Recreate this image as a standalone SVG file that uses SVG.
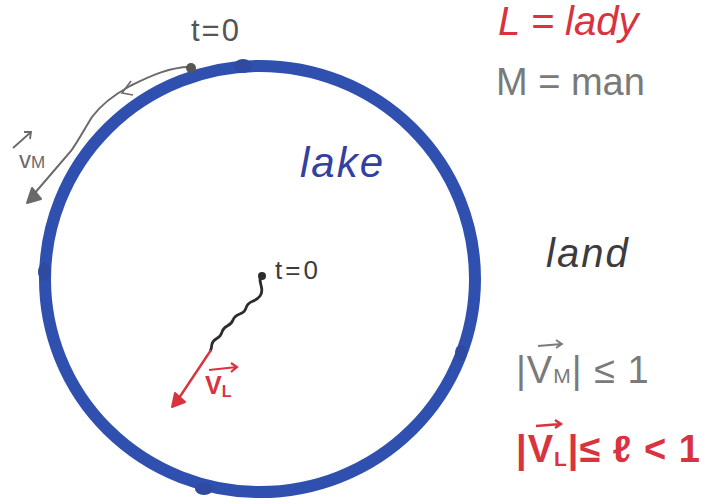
<svg xmlns="http://www.w3.org/2000/svg" width="709" height="504" viewBox="0 0 709 504">
<defs>
<style>
.t{font-family:"Liberation Sans","DejaVu Sans",sans-serif}
.red{fill:#d8333f}
.grey{fill:#7a7a7a}
.dark{fill:#3c3c3c}
.blue{fill:#33409e}
.lake{fill:none;stroke:#2f50ae;stroke-width:12}
.blob{fill:#2f4aa0}
</style>
</defs>
<rect width="709" height="504" fill="#ffffff"/>
<g id="lake">
<ellipse class="lake" cx="260" cy="279" rx="215" ry="213"/>
<ellipse class="blob" cx="243" cy="66" rx="9" ry="7"/>
<ellipse class="blob" cx="44" cy="272" rx="6" ry="9"/>
<ellipse class="blob" cx="461" cy="353" rx="6" ry="8"/>
<ellipse class="blob" cx="204" cy="489" rx="9" ry="6"/>
</g>
<g id="man">
<path d="M192,67 C172,66 150,76 130,86 C112,96 100,106 92,117 C85,128 79,140 71,151 L34,194" fill="none" stroke="#6a6a6a" stroke-width="2"/>
<polyline points="131,81 122,93 133,95" fill="none" stroke="#6a6a6a" stroke-width="1.6"/>
<polygon points="27,203 32,188 41,199" fill="#6a6a6a" stroke="#6a6a6a" stroke-width="2" stroke-linejoin="round"/>
<circle cx="191" cy="68" r="5" fill="#555"/>
<text class="t" x="191" y="41" font-size="31" fill="#555" letter-spacing="2">t=0</text>
<path d="M13,148 L31,132 M24,132 L31,132 L30,139" fill="none" stroke="#6a6a6a" stroke-width="1.8"/>
<text class="t" x="19" y="168" font-size="24" fill="#6a6a6a">v<tspan font-size="17">M</tspan></text>
</g>
<g id="lady">
<path d="M262,275 C256,282 266,288 260,296 C255,303 248,300 246,308 C244,316 236,312 233,320 C230,328 224,324 222,332 C220,340 214,337 212,344 C211,348 212,349 210,351" fill="none" stroke="#2c2c2c" stroke-width="2.8"/>
<path d="M211,350 L177,401" fill="none" stroke="#d8333f" stroke-width="2.4"/>
<polygon points="172,407 175,393 185,402" fill="#d8333f" stroke="#d8333f" stroke-width="2" stroke-linejoin="round"/>
<circle cx="262" cy="276" r="4" fill="#2c2c2c"/>
<text class="t dark" x="275" y="279" font-size="26" letter-spacing="3">t=0</text>
<path d="M209,370 L237,367 M231,363 L237,367 L231,372" fill="none" stroke="#d8333f" stroke-width="2.2"/>
<text class="t red" x="205" y="394" font-size="25" font-weight="bold">V<tspan font-size="16" dy="3">L</tspan></text>
</g>
<g id="legend">
<text class="t red" x="498" y="35" font-size="40" font-style="italic">L = lady</text>
<text class="t grey" x="496" y="95" font-size="38">M = man</text>
<text class="t blue" x="300" y="177" font-size="42" font-style="italic" letter-spacing="2">lake</text>
<text class="t dark" x="546" y="267" font-size="40" font-style="italic" letter-spacing="2">land</text>
</g>
<g id="formulas">
<text class="t grey" x="516" y="383" font-size="38" letter-spacing="1">|V<tspan font-size="21">M</tspan>| ≤ 1</text>
<path d="M538,346 L562,344 M556,340 L562,344 L556,348" fill="none" stroke="#7a7a7a" stroke-width="1.8"/>
<text class="t red" x="516" y="462" font-size="38" font-weight="bold" letter-spacing="1">|V<tspan font-size="21" dy="4">L</tspan><tspan dy="-4">|≤ ℓ &lt; 1</tspan></text>
<path d="M536,426 L561,424 M555,420 L561,424 L555,428" fill="none" stroke="#d8333f" stroke-width="2.4"/>
</g>
</svg>
